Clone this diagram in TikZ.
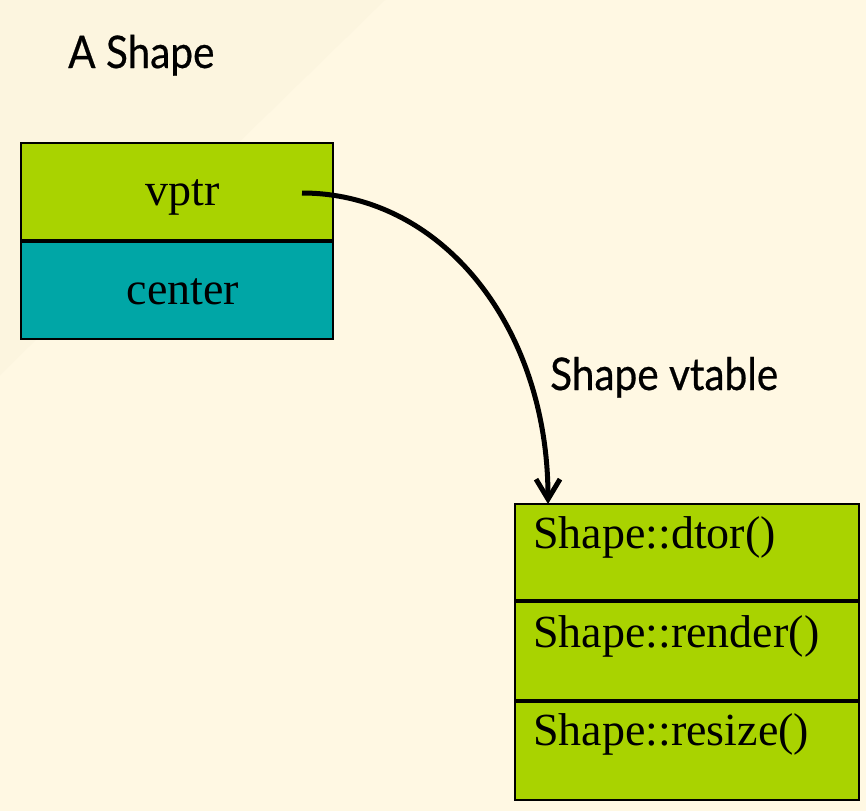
\documentclass[tikz,border=0pt]{standalone}
\usepackage{fontspec}
\setmainfont{Liberation Serif}
\newfontfamily\gillfont[FakeStretch=0.9,FakeBold=0.5]{Lato}
\usetikzlibrary{arrows.meta}
\definecolor{bgcol}{HTML}{FFF8E3}
\definecolor{bgdark}{HTML}{FCF5DF}
\definecolor{cellgreen}{HTML}{A9D300}
\definecolor{cellteal}{HTML}{00A6A6}
\tikzset{
  cell/.style={draw=black, line width=1.5pt, inner sep=0pt, outer sep=0pt, anchor=north west},
  celltext/.style={font=\fontsize{46}{50}\selectfont, text height=30pt, text depth=3pt},
  rowtext/.style={font=\fontsize{46}{50}\selectfont, anchor=base west, inner sep=0pt},
  title/.style={font=\fontsize{45}{50}\gillfont, anchor=base west, inner sep=0pt},
  sep/.style={line width=4.5pt},
  pointer/.style={line width=5pt, -{Straight Barb[length=20pt,width=24pt]}}
}
\begin{document}
\begin{tikzpicture}[x=1pt,y=-1pt]
\useasboundingbox (0,0) rectangle (866,811);
\fill[bgcol] (0,0) rectangle (866,811);
\fill[bgdark] (0,0) -- (385,0) -- (0,375) -- cycle;

\node[title] (ashape) at (68,68) {A Shape};
\node[title] (vtlabel) at (550,390) {Shape vtable};

\node[cell, fill=cellgreen, minimum width=312pt, minimum height=97pt, celltext] (vptr) at (21,143) {\hspace*{12pt}vptr};
\node[cell, fill=cellteal, minimum width=312pt, minimum height=97pt, celltext] (center) at (21,242) {\hspace*{12pt}center};

\node[cell, fill=cellgreen, minimum width=344pt, minimum height=97pt] (dtor) at (515,504) {};
\node[cell, fill=cellgreen, minimum width=344pt, minimum height=100pt] (render) at (515,601) {};
\node[cell, fill=cellgreen, minimum width=344pt, minimum height=99pt] (resize) at (515,701) {};
\draw[sep] (dtor.south west) -- (dtor.south east);
\draw[sep] (render.south west) -- (render.south east);

\node[rowtext] (dtortext) at ([xshift=18pt,yshift=-44pt]dtor.north west) {Shape::dtor()};
\node[rowtext] (rendertext) at ([xshift=18pt,yshift=-46pt]render.north west) {Shape::render()};
\node[rowtext] (resizetext) at ([xshift=18pt,yshift=-44pt]resize.north west) {Shape::resize()};

\coordinate (from) at (302,193);
\coordinate (to) at ([xshift=33pt]dtor.north west);
\draw[pointer] (from) .. controls +(140,0) and +(0,-177) .. (to);
\end{tikzpicture}
\end{document}
